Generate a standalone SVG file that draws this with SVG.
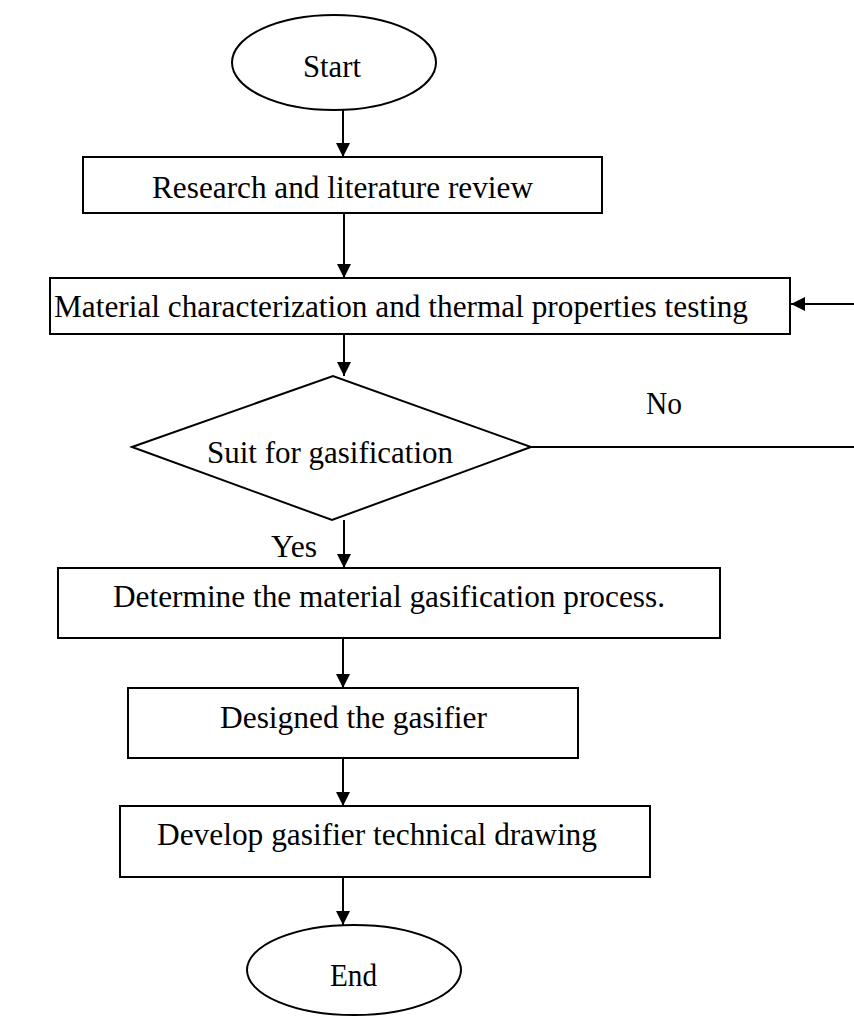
<svg xmlns="http://www.w3.org/2000/svg" width="854" height="1017" viewBox="0 0 854 1017">
<defs>
<marker id="ah" markerUnits="userSpaceOnUse" markerWidth="14" markerHeight="14" refX="14" refY="7" orient="auto">
<path d="M0,0 L14,7 L0,14 z" fill="#000"/>
</marker>
<style>
.s{fill:#fff;stroke:#000;stroke-width:2}
.t{font-family:"Liberation Serif","Times New Roman",serif;font-size:32px;fill:#000}
.c{text-anchor:middle}
.l{fill:none;stroke:#000;stroke-width:2}
</style>
</defs>
<rect width="854" height="1017" fill="#fff"/>
<g id="start"><ellipse class="s" cx="334" cy="62.5" rx="102" ry="47.5"/><text class="t c" x="332" y="77" textLength="58" lengthAdjust="spacingAndGlyphs">Start</text></g>
<g id="research"><rect class="s" x="83" y="157" width="519" height="56"/><text class="t" x="152" y="198" textLength="381" lengthAdjust="spacingAndGlyphs">Research and literature review</text></g>
<g id="material"><rect class="s" x="50" y="278" width="740" height="56"/><text class="t" x="54" y="317" textLength="694" lengthAdjust="spacingAndGlyphs">Material characterization and thermal properties testing</text></g>
<g id="suit"><polygon class="s" points="132,447 333,376 531,447 332,520"/><text class="t" x="207" y="463" textLength="246" lengthAdjust="spacingAndGlyphs">Suit for gasification</text></g>
<g id="determine"><rect class="s" x="58" y="568" width="662" height="70"/><text class="t" x="113" y="607" textLength="552" lengthAdjust="spacingAndGlyphs">Determine the material gasification process.</text></g>
<g id="designed"><rect class="s" x="128" y="688" width="450" height="70"/><text class="t" x="220" y="728" textLength="267" lengthAdjust="spacingAndGlyphs">Designed the gasifier</text></g>
<g id="develop"><rect class="s" x="120" y="806" width="530" height="71"/><text class="t" x="157" y="845" textLength="440" lengthAdjust="spacingAndGlyphs">Develop gasifier technical drawing</text></g>
<g id="end"><ellipse class="s" cx="354" cy="970" rx="107" ry="45"/><text class="t" x="330" y="986" textLength="47" lengthAdjust="spacingAndGlyphs">End</text></g>
<g id="connectors">
<line class="l" x1="343" y1="110" x2="343" y2="157" marker-end="url(#ah)"/>
<line class="l" x1="344" y1="213" x2="344" y2="278" marker-end="url(#ah)"/>
<line class="l" x1="344" y1="334" x2="344" y2="376" marker-end="url(#ah)"/>
<line class="l" x1="344" y1="520" x2="344" y2="568" marker-end="url(#ah)"/>
<line class="l" x1="343" y1="638" x2="343" y2="688" marker-end="url(#ah)"/>
<line class="l" x1="343" y1="758" x2="343" y2="806" marker-end="url(#ah)"/>
<line class="l" x1="343" y1="877" x2="343" y2="925" marker-end="url(#ah)"/>
<line class="l" x1="531" y1="447" x2="854" y2="447"/>
<line class="l" x1="854" y1="304" x2="791" y2="304" marker-end="url(#ah)"/>
<text class="t" x="646" y="414" textLength="36" lengthAdjust="spacingAndGlyphs">No</text>
<text class="t" x="271" y="557" textLength="46" lengthAdjust="spacingAndGlyphs">Yes</text>
</g>
</svg>
